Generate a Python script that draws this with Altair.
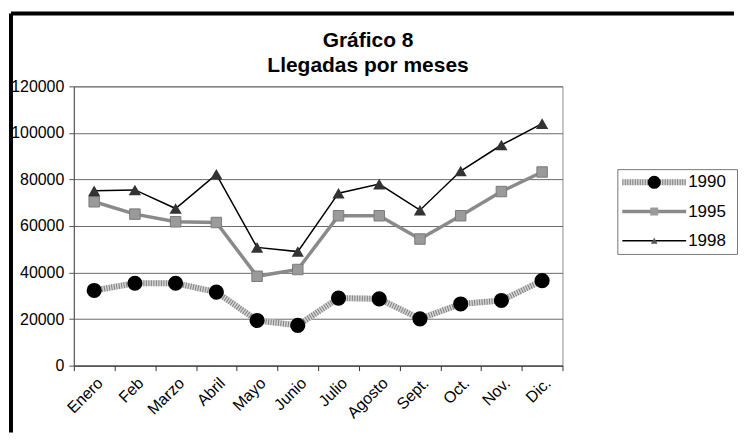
import altair as alt
import pandas as pd

FONT = "Liberation Sans"

meses = ["Enero", "Feb", "Marzo", "Abril", "Mayo", "Junio", "Julio",
         "Agosto", "Sept.", "Oct.", "Nov.", "Dic."]
v1990 = [32300, 35400, 35400, 31600, 19400, 17300, 29000, 28700, 20100, 26500, 28000, 36500]
v1995 = [70400, 65100, 61800, 61500, 38400, 41300, 64400, 64400, 54400, 64400, 74800, 83200]
v1998 = [75100, 75500, 67500, 82200, 50800, 49000, 74100, 78000, 66800, 83600, 94800, 104000]
series = ["1990", "1995", "1998"]
titulo = ["Gráfico 8", "Llegadas por meses"]
y_ticks = [0, 20000, 40000, 60000, 80000, 100000, 120000]

rows = []
for s, vals in zip(series, [v1990, v1995, v1998]):
    for m, v in zip(meses, vals):
        rows.append({"mes": m, "serie": s, "valor": v})
df = pd.DataFrame(rows)

X = alt.X("mes:N", sort=meses, title=None, bandPosition=0.5,
          scale=alt.Scale(type="band", paddingInner=0, paddingOuter=0),
          axis=alt.Axis(labelAngle=-45, labelFontSize=16, labelFont=FONT, labelColor="black",
                        tickBand="extent", tickSize=5, tickColor="#333", domainColor="#333",
                        labelPadding=4, grid=False))
Y = alt.Y("valor:Q", title=None,
          scale=alt.Scale(domain=[0, 120000], nice=False),
          axis=alt.Axis(values=y_ticks, format="d", labelFontSize=16, labelFont=FONT,
                        labelColor="black", tickSize=5, tickColor="#555", domainColor="#555",
                        gridColor="#6a6a6a", gridWidth=1, labelPadding=5))

base = alt.Chart(df).encode(x=X, y=Y)

def sel(s):
    return base.transform_filter(alt.datum.serie == s)

l90a = sel("1990").mark_line(color="#d4d4d4", strokeWidth=6)
l90b = sel("1990").mark_line(color="#808080", strokeWidth=6, strokeDash=[1, 1.5])
p90 = sel("1990").mark_point(shape="circle", filled=True, color="black", size=230, opacity=1)
l95 = sel("1995").mark_line(color="#8a8a8a", strokeWidth=3.5)
p95 = sel("1995").mark_point(shape="square", filled=True, color="#9a9a9a", size=110, opacity=1,
                             stroke="#7a7a7a", strokeWidth=1)
l98 = sel("1998").mark_line(color="black", strokeWidth=1.5)
p98 = sel("1998").mark_point(shape="triangle-up", filled=True, color="#333333", size=150, opacity=1)

one = alt.Data(values=[{}])
frame_top = alt.Chart(one).mark_rule(color="black", strokeWidth=4).encode(
    x=alt.value(-63), x2=alt.value(662), y=alt.value(-73))
frame_left = alt.Chart(one).mark_rule(color="black", strokeWidth=4).encode(
    x=alt.value(-63), y=alt.value(-73), y2=alt.value(347))
t1 = alt.Chart(one).mark_text(font=FONT, fontSize=21, fontWeight="bold", align="center",
                              baseline="alphabetic", color="black").encode(
    x=alt.value(295), y=alt.value(-39.5), text=alt.value(titulo[0]))
t2 = alt.Chart(one).mark_text(font=FONT, fontSize=21, fontWeight="bold", align="center",
                              baseline="alphabetic", color="black").encode(
    x=alt.value(295), y=alt.value(-14), text=alt.value(titulo[1]))

main = alt.layer(l90a, l90b, p90, l95, p95, l98, p98, frame_top, frame_left, t1, t2).properties(
    width=490, height=280)

# legend panel
ldf = pd.DataFrame({"serie": series})
LY = alt.Y("serie:N", sort=series, axis=None,
           scale=alt.Scale(type="point", padding=0.45))
lb = alt.Chart(ldf).encode(y=LY)

def lsel(s):
    return lb.transform_filter(alt.datum.serie == s)

leg = alt.layer(
    lsel("1990").mark_rule(color="#d4d4d4", strokeWidth=6).encode(x=alt.value(5), x2=alt.value(69)),
    lsel("1990").mark_rule(color="#808080", strokeWidth=6, strokeDash=[1, 1.5]).encode(
        x=alt.value(5), x2=alt.value(69)),
    lsel("1990").mark_point(shape="circle", filled=True, color="black", size=170, opacity=1).encode(
        x=alt.value(37)),
    lsel("1995").mark_rule(color="#8a8a8a", strokeWidth=3.5).encode(x=alt.value(5), x2=alt.value(69)),
    lsel("1995").mark_point(shape="square", filled=True, color="#9a9a9a", size=64, opacity=1).encode(
        x=alt.value(37)),
    lsel("1998").mark_rule(color="black", strokeWidth=1.5).encode(x=alt.value(5), x2=alt.value(69)),
    lsel("1998").mark_point(shape="triangle-up", filled=True, color="#555", size=45, opacity=1).encode(
        x=alt.value(37)),
    lb.mark_text(font=FONT, fontSize=17, align="left", baseline="middle", color="black").encode(
        x=alt.value(71), text="serie:N"),
).properties(width=120, height=85, view=alt.ViewBackground(stroke="#777777", strokeWidth=1))

spacer = alt.Chart(one).mark_point(opacity=0).encode(x=alt.value(0), y=alt.value(0)).properties(
    width=120, height=83, view=alt.ViewBackground(strokeOpacity=0))

legcol = alt.vconcat(spacer, leg, spacing=0, bounds="flush")

chart = alt.hconcat(main, legcol, spacing=55, bounds="flush").properties(
    padding={"left": 0, "top": 2, "right": 0, "bottom": 0},
    background="white",
).configure_view(stroke="#8c8c8c", strokeWidth=1)

chart.save("out.html", embed_options={"renderer": "svg", "actions": False})
